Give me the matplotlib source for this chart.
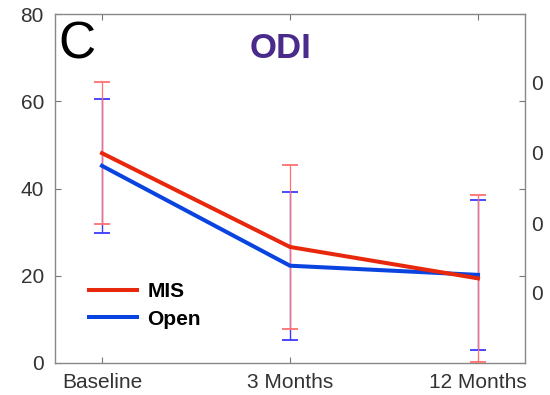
import matplotlib.pyplot as plt
import numpy as np

plt.rcParams['font.family'] = ['Liberation Sans', 'DejaVu Sans']

# ODI scores per follow-up visit
visitas = ["Baseline", "3 Months", "12 Months"]
mis_media = [48.1, 26.6, 19.4]
mis_dp = [16.2, 18.9, 19.1]
open_media = [45.2, 22.3, 20.2]
open_dp = [15.4, 17.0, 17.2]

fig = plt.figure(figsize=(5.5, 3.95), dpi=100)
ax = fig.add_axes([55 / 550, 1 - 363 / 395, 470 / 550, 349 / 395])

x = np.arange(1, len(visitas) + 1)

# barras de erro (finas) e linhas das médias
ax.errorbar(x, open_media, yerr=open_dp, fmt='none', ecolor='#3a3aff',
            elinewidth=1, capsize=5.8, capthick=1.3, zorder=2)
ax.errorbar(x, mis_media, yerr=mis_dp, fmt='none', ecolor='#ff7070',
            elinewidth=0.9, capsize=5.8, capthick=1.3, zorder=3)
ax.plot(x, open_media, color='#0a44e0', lw=2.9, label='Open', zorder=4)
ax.plot(x, mis_media, color='#e8280c', lw=2.9, label='MIS', zorder=5)

ax.set_xlim(0.75, 3.25)
ax.set_ylim(0, 80)
ax.set_xticks(x)
ax.set_xticklabels(visitas)
ax.set_yticks([0, 20, 40, 60, 80])
ax.tick_params(direction='in', length=4, colors='#777777', labelcolor='#333333',
               labelsize=15, top=True, right=True)
ax.tick_params(axis='y', pad=8)
ax.tick_params(axis='x', pad=7)
for s in ax.spines.values():
    s.set_color('#888888')
    s.set_linewidth(1)

ax.text(0.008, 0.91, "C", transform=ax.transAxes, fontsize=37,
        va='center', ha='left', color='black')
ax.text(0.48, 0.901, "ODI", transform=ax.transAxes, fontsize=25,
        fontweight='bold', color='#4a2a8a', va='center', ha='center')

handles, labels = ax.get_legend_handles_labels()
leg = ax.legend(handles[::-1], labels[::-1], loc='center left',
                bbox_to_anchor=(0.072, 0.165), frameon=False,
                prop={'weight': 'bold', 'size': 15}, handlelength=2.3,
                labelspacing=0.4, handletextpad=0.5, borderpad=0,
                borderaxespad=0)

# rótulos do painel vizinho, cortados na borda
for yp in [85, 155, 225, 295]:
    fig.text(531 / 550, 1 - yp / 395, "0", fontsize=15, color='#333333',
             va='center', ha='left')

fig.savefig("out.png", dpi=100)
